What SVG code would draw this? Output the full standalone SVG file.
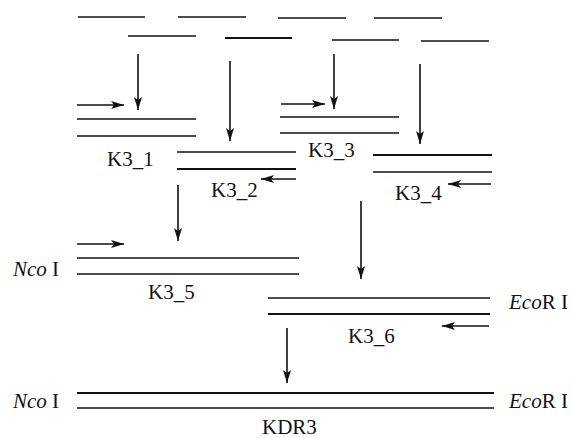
<svg xmlns="http://www.w3.org/2000/svg" width="571" height="438" viewBox="0 0 571 438">
<style>
.s{stroke:#111;stroke-width:1.5;fill:none}
.t{stroke:#111;stroke-width:2.2;fill:none}
.a{stroke:#111;stroke-width:1.6;fill:none;marker-end:url(#ah)}
.lbl{font-family:'Liberation Serif','Times New Roman',serif;font-size:21px;fill:#111}
.i{font-style:italic}
</style>
<defs>
<marker id="ah" markerUnits="userSpaceOnUse" markerWidth="14" markerHeight="9" refX="13" refY="4" orient="auto">
<path d="M0,0 L13,4 L0,8 L3,4 z" fill="#111"/>
</marker>
</defs>
<rect width="571" height="438" fill="#fff"/>
<g id="fragments">
<line class="s" x1="78" y1="17" x2="145" y2="17"/>
<line class="s" x1="178" y1="17" x2="246" y2="17"/>
<line class="s" x1="278" y1="18" x2="346" y2="18"/>
<line class="s" x1="374" y1="18" x2="442" y2="18"/>
<line class="s" x1="128" y1="36" x2="196" y2="36"/>
<line class="t" x1="225" y1="38" x2="292" y2="38"/>
<line class="s" x1="332" y1="40" x2="399" y2="40"/>
<line class="s" x1="421" y1="41" x2="489" y2="41"/>
</g>
<g id="K3_1">
<line class="s" x1="77" y1="119" x2="196" y2="119"/>
<line class="s" x1="77" y1="136" x2="196" y2="136"/>
<text class="lbl" x="107" y="166">K3_1</text>
</g>
<g id="K3_2">
<line class="s" x1="177" y1="152" x2="296" y2="152"/>
<line class="t" x1="177" y1="169" x2="296" y2="169"/>
<text class="lbl" x="211" y="197">K3_2</text>
</g>
<g id="K3_3">
<line class="s" x1="280" y1="117" x2="399" y2="117"/>
<line class="s" x1="280" y1="133" x2="399" y2="133"/>
<text class="lbl" x="308" y="157">K3_3</text>
</g>
<g id="K3_4">
<line class="t" x1="373" y1="155" x2="492" y2="155"/>
<line class="s" x1="373" y1="172" x2="492" y2="172"/>
<text class="lbl" x="395" y="200">K3_4</text>
</g>
<g id="K3_5">
<line class="s" x1="77" y1="258" x2="299" y2="258"/>
<line class="s" x1="77" y1="274" x2="299" y2="274"/>
<text class="lbl" x="148" y="299">K3_5</text>
<text class="lbl" x="13" y="276"><tspan class="i">Nco</tspan> I</text>
</g>
<g id="K3_6">
<line class="s" x1="268" y1="298" x2="490" y2="298"/>
<line class="t" x1="268" y1="314" x2="490" y2="314"/>
<text class="lbl" x="348" y="343">K3_6</text>
<text class="lbl" x="509" y="309"><tspan class="i">Eco</tspan>R I</text>
</g>
<g id="KDR3">
<line class="t" x1="77" y1="393" x2="494" y2="393"/>
<line class="s" x1="77" y1="408" x2="494" y2="408"/>
<text class="lbl" x="262" y="434">KDR3</text>
<text class="lbl" x="13" y="408"><tspan class="i">Nco</tspan> I</text>
<text class="lbl" x="509" y="408"><tspan class="i">Eco</tspan>R I</text>
</g>
<g id="connectors">
<line class="a" x1="138" y1="54" x2="138" y2="110"/>
<line class="a" x1="230" y1="61" x2="230" y2="141"/>
<line class="a" x1="334" y1="54" x2="334" y2="109"/>
<line class="a" x1="420" y1="64" x2="420" y2="144"/>
<line class="a" x1="178" y1="185" x2="178" y2="241"/>
<line class="a" x1="361" y1="201" x2="361" y2="279"/>
<line class="a" x1="287" y1="328" x2="287" y2="383"/>
<line class="a" x1="77" y1="105" x2="124" y2="105"/>
<line class="a" x1="281" y1="104" x2="325" y2="104"/>
<line class="a" x1="296" y1="179" x2="261" y2="179"/>
<line class="a" x1="491" y1="184" x2="448" y2="184"/>
<line class="a" x1="77" y1="244" x2="124" y2="244"/>
<line class="a" x1="489" y1="326" x2="442" y2="326"/>
</g>
</svg>
